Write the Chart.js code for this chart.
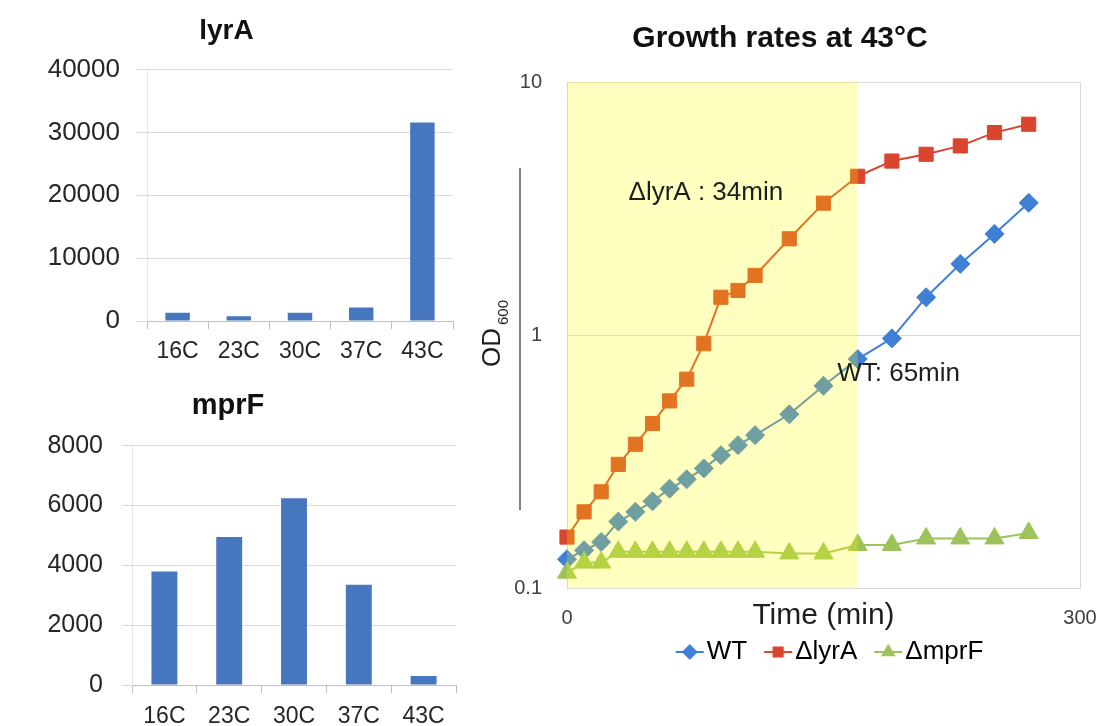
<!DOCTYPE html>
<html>
<head>
<meta charset="utf-8">
<script src="https://cdn.jsdelivr.net/npm/chart.js@4.4.1/dist/chart.umd.min.js"></script>
<style>
  body { margin: 0; background: #fff; }
  #wrap { position: relative; width: 1102px; height: 726px; overflow: hidden; background: #fff; }
  canvas { position: absolute; }
</style>
</head>
<body>
<div id="wrap">
  <canvas id="lyrChart" width="470" height="370" style="left:0;top:0"></canvas>
  <canvas id="mprChart" width="470" height="351" style="left:0;top:375px"></canvas>
  <canvas id="growthChart" width="622" height="726" style="left:480px;top:0"></canvas>
</div>
<script>
// expression per temperature
const temps = ['16C', '23C', '30C', '37C', '43C'];
const lyrA = [1300, 750, 1300, 2150, 31600];
const mprF = [3800, 4950, 6250, 3350, 300];
const lyrTicks = [0, 10000, 20000, 30000, 40000];
const mprTicks = [0, 2000, 4000, 6000, 8000];

// growth curves at 43C (OD600, log scale)
const times = [0, 10, 20, 30, 40, 50, 60, 70, 80, 90, 100, 110, 130, 150, 170, 190, 210, 230, 250, 270];
const wt = [0.130, 0.141, 0.152, 0.183, 0.200, 0.220, 0.247, 0.269, 0.297, 0.335, 0.367, 0.402, 0.486, 0.630, 0.803, 0.97, 1.41, 1.91, 2.51, 3.33];
const dLyrA = [0.159, 0.200, 0.240, 0.308, 0.370, 0.447, 0.549, 0.669, 0.924, 1.41, 1.50, 1.72, 2.40, 3.32, 4.24, 4.87, 5.18, 5.59, 6.31, 6.81];
const dMprF = [0.115, 0.126, 0.126, 0.139, 0.139, 0.139, 0.139, 0.139, 0.139, 0.139, 0.139, 0.139, 0.137, 0.137, 0.148, 0.148, 0.157, 0.157, 0.157, 0.165];
const odTicks = [0.1, 1, 10];
const timeTicks = [0, 300];
const shadeEnd = 170;   // shaded window: 0 .. 170 min
const notes = [
  { text: 'ΔlyrA : 34min', t: 36, od: 3.66 },
  { text: 'WT: 65min', t: 158, od: 0.70 }
];

const FONT = '"Liberation Sans", Arial, sans-serif';
Chart.defaults.font.family = FONT;
Chart.defaults.animation = false;

const barBlue = '#4677be';

function barChart(id, title, values, ticks, o) {
  return new Chart(document.getElementById(id), {
    type: 'bar',
    data: {
      labels: temps,
      datasets: [{
        data: values,
        backgroundColor: barBlue,
        barPercentage: 0.4,
        categoryPercentage: 1
      }]
    },
    options: {
      responsive: false,
      layout: { padding: { left: 0, right: o.right, top: 0, bottom: 0 } },
      plugins: {
        legend: { display: false },
        tooltip: { enabled: false },
        title: {
          display: true,
          text: title,
          color: '#111',
          font: { size: o.titleSize, weight: 'bold' },
          padding: { top: o.titleTop, bottom: o.titleBottom }
        }
      },
      scales: {
        x: {
          grid: { display: true, drawOnChartArea: false, drawTicks: true, tickLength: 8, offset: true, color: '#bfbfbf' },
          border: { display: true, color: '#bfbfbf' },
          ticks: { color: '#262626', font: { size: 23 }, padding: o.xPad, maxRotation: 0 },
          afterFit(s) { s.height = o.xHeight; }
        },
        y: {
          min: ticks[0],
          max: ticks[ticks.length - 1],
          afterBuildTicks(s) { s.ticks = ticks.map(v => ({ value: v })); },
          grid: { color: '#d9d9d9', drawTicks: true, tickLength: 10 },
          border: { display: true, color: '#e3e3e3' },
          ticks: { color: '#262626', font: { size: o.tickSize }, padding: o.yPad, callback: v => String(v) },
          afterFit(s) { s.width = o.yWidth; }
        }
      }
    }
  });
}

barChart('lyrChart', 'lyrA', lyrA, lyrTicks,
  { right: 17, titleSize: 28, titleTop: 14, titleBottom: 22, xHeight: 49, xPad: 9, yPad: 17, yWidth: 147, tickSize: 26 });
barChart('mprChart', 'mprF', mprF, mprTicks,
  { right: 14, titleSize: 29, titleTop: 14, titleBottom: 22, xHeight: 41, xPad: 10, yPad: 19, yWidth: 132, tickSize: 25 });

// growth chart
const blue = '#3f7fd6', red = '#d9452f', green = '#9bc35a';

// legend icon: short line with the marker, shifted right so it sits close to its label
function legendIcon(color, style) {
  const c = document.createElement('canvas');
  c.width = 52; c.height = 16;
  const g = c.getContext('2d');
  g.strokeStyle = color; g.fillStyle = color; g.lineWidth = 2;
  g.beginPath(); g.moveTo(23, 8); g.lineTo(51, 8); g.stroke();
  Chart.helpers.drawPoint(g, { pointStyle: style, radius: 6.5, rotation: 0, borderWidth: 1 }, 37, 8);
  return c;
}

const series = [
  { label: 'WT', values: wt, color: blue, style: 'rectRot', r: 9.5, order: 3 },
  { label: 'ΔlyrA', values: dLyrA, color: red, style: 'rect', r: 10, order: 2 },
  { label: 'ΔmprF', values: dMprF, color: green, style: 'triangle', r: 11, order: 1 }
];
const icons = series.map(s => legendIcon(s.color, s.style));

const growthDecor = {
  id: 'growthDecor',
  afterLayout(chart) {
    // centre the legend under the plot area rather than the whole canvas
    const a = chart.chartArea, lg = chart.legend;
    const shift = (a.left + a.right) / 2 - (lg.left + lg.right) / 2;
    lg.left += shift; lg.right += shift;
  },
  afterDatasetsDraw(chart) {
    const { ctx, chartArea: a, scales: { x, y } } = chart;
    ctx.save();
    // translucent yellow window over the early phase
    ctx.fillStyle = 'rgba(255,255,0,0.25)';
    ctx.fillRect(a.left, a.top, x.getPixelForValue(shadeEnd) - a.left, a.bottom - a.top);
    // doubling time notes
    ctx.fillStyle = '#1e1e1e';
    ctx.font = '26px ' + FONT;
    ctx.textBaseline = 'middle';
    ctx.textAlign = 'left';
    notes.forEach(n => ctx.fillText(n.text, x.getPixelForValue(n.t), y.getPixelForValue(n.od)));
    ctx.restore();

    // y title OD600 with subscript, plus the stray rule beside it
    ctx.save();
    ctx.strokeStyle = '#808080';
    ctx.lineWidth = 2;
    ctx.beginPath(); ctx.moveTo(40, 168); ctx.lineTo(40, 510); ctx.stroke();
    ctx.translate(20, 367);
    ctx.rotate(-Math.PI / 2);
    ctx.fillStyle = '#1e1e1e';
    ctx.textBaseline = 'alphabetic';
    ctx.font = '26px ' + FONT;
    ctx.fillText('OD', 0, 0);
    const w = ctx.measureText('OD').width;
    ctx.font = '15px ' + FONT;
    ctx.fillText('600', w + 3, 8);
    ctx.restore();
  }
};

new Chart(document.getElementById('growthChart'), {
  type: 'line',
  data: {
    datasets: series.map(s => ({
      label: s.label,
      data: times.map((t, i) => ({ x: t, y: s.values[i] })),
      borderColor: s.color,
      backgroundColor: s.color,
      borderWidth: 2,
      pointStyle: s.style,
      pointRadius: s.r,
      pointBorderWidth: 1,
      order: s.order,
      clip: false
    }))
  },
  options: {
    responsive: false,
    layout: { padding: { left: 0, right: 22, top: 0, bottom: 51 } },
    plugins: {
      tooltip: { enabled: false },
      title: {
        display: true,
        text: 'Growth rates at 43°C',
        color: '#111',
        font: { size: 30, weight: 'bold' },
        padding: { top: 21, bottom: 25 }
      },
      legend: {
        position: 'bottom',
        labels: {
          usePointStyle: true,
          pointStyleWidth: 30,
          padding: 5,
          color: '#1e1e1e',
          font: { size: 26 },
          generateLabels: chart => series.map((s, i) => ({
            text: s.label,
            pointStyle: icons[i],
            fillStyle: s.color,
            strokeStyle: s.color,
            lineWidth: 0,
            hidden: false,
            datasetIndex: i
          }))
        }
      }
    },
    scales: {
      x: {
        type: 'linear',
        min: timeTicks[0],
        max: timeTicks[timeTicks.length - 1],
        afterBuildTicks(s) { s.ticks = timeTicks.map(v => ({ value: v })); },
        grid: { color: '#d9d9d9', drawTicks: false },
        border: { display: true, color: '#d9d9d9' },
        ticks: { color: '#404040', font: { size: 20 }, padding: 18 },
        title: { display: true, text: 'Time (min)', color: '#1e1e1e', font: { size: 30 }, padding: { top: 0, bottom: 0 } },
        afterFit(s) { s.height = 46; s.paddingLeft = 0; s.paddingRight = 0; }
      },
      y: {
        type: 'logarithmic',
        min: odTicks[0],
        max: odTicks[odTicks.length - 1],
        afterBuildTicks(s) { s.ticks = odTicks.map(v => ({ value: v })); },
        grid: { color: '#d9d9d9', drawTicks: false },
        border: { display: true, color: '#cfcfe6' },
        ticks: { color: '#404040', font: { size: 20 }, padding: 25, callback: v => String(v) },
        afterFit(s) { s.width = 87; }
      }
    }
  },
  plugins: [growthDecor]
});
</script>
</body>
</html>
